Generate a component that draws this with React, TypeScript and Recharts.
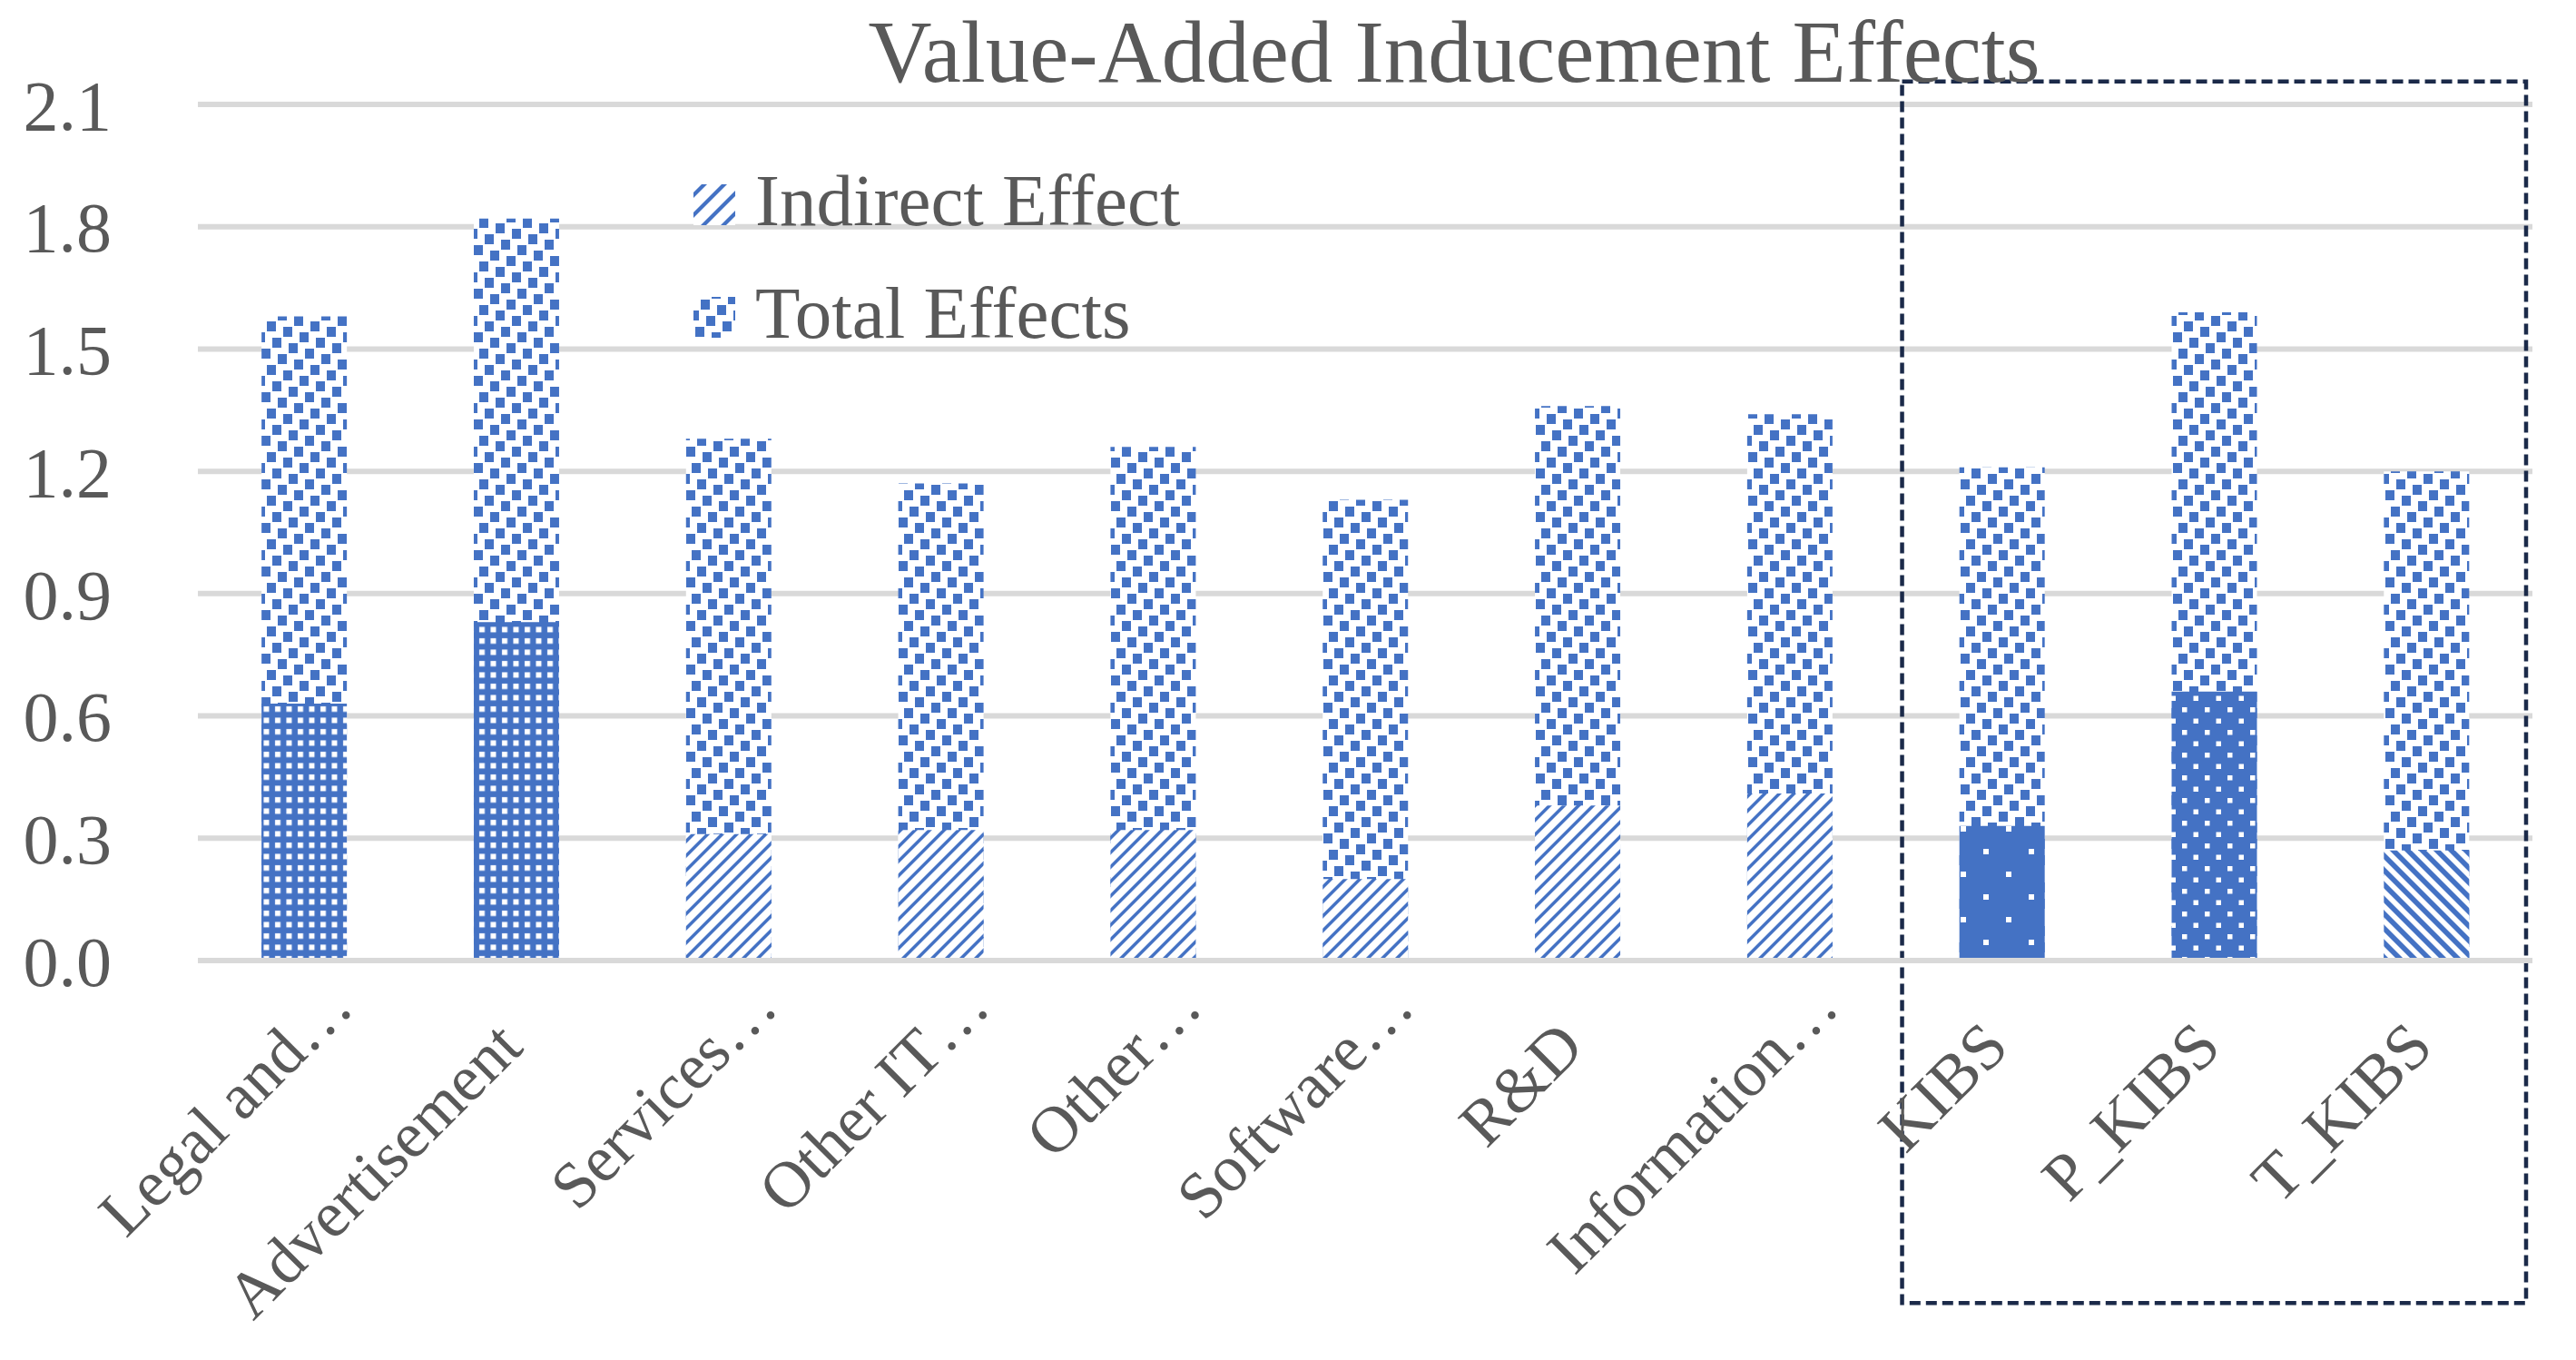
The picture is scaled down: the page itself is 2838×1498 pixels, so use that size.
import React from "react";
import {
  Bar,
  BarChart,
  CartesianGrid,
  Cell,
  Legend,
  ReferenceArea,
  XAxis,
  YAxis,
} from "recharts";

const categories = [
  "Legal and…",
  "Advertisement",
  "Services…",
  "Other IT…",
  "Other…",
  "Software…",
  "R&D",
  "Information…",
  "KIBS",
  "P_KIBS",
  "T_KIBS",
];
const indirectEffect = [0.63, 0.83, 0.31, 0.32, 0.32, 0.2, 0.38, 0.41, 0.33, 0.66, 0.27];
const totalEffects = [1.58, 1.82, 1.28, 1.17, 1.26, 1.13, 1.36, 1.34, 1.21, 1.59, 1.2];
const yTicks = [0, 0.3, 0.6, 0.9, 1.2, 1.5, 1.8, 2.1];
const seriesNames = ["Indirect Effect", "Total Effects"];

// fill pattern used for each indirect-effect bar
const indirectPatterns = [
  "pat-grid",
  "pat-grid",
  "pat-up",
  "pat-up",
  "pat-up",
  "pat-up",
  "pat-up",
  "pat-up",
  "pat-dots-sparse",
  "pat-dots-dense",
  "pat-down",
];

// dashed frame around the KIBS group (value range runs past the axis on purpose)
const highlightFrom = "KIBS";
const highlightTo = "T_KIBS";
const highlightValues = [-0.84, 2.156];

const BLUE = "#4472C4";
const TEXT = "#595959";
const GRID = "#D9D9D9";
const FRAME = "#1B2A49";
const FONT = "'Liberation Serif', 'Times New Roman', serif";

const data = categories.map((name, i) => ({
  name,
  indirect: indirectEffect[i],
  total: totalEffects[i],
}));

// large confetti: 2x2 blocks on an 8x8 lattice of 6px cells
const confetti = Array.from({ length: 8 }, (_, k) => [(k * 3) % 8, k % 8]);

function PatternDefs() {
  return (
    <svg width={0} height={0} style={{ position: "absolute" }}>
      <defs>
        <pattern id="pat-total" width={48} height={48} patternUnits="userSpaceOnUse">
          <rect width={48} height={48} fill="#fff" />
          {confetti.map(([cx, cy], i) =>
            [0, -48].map((ox) =>
              [0, -48].map((oy) => (
                <rect
                  key={`${i}-${ox}-${oy}`}
                  x={cx * 6 + ox}
                  y={cy * 6 + oy}
                  width={10}
                  height={11}
                  fill={BLUE}
                />
              ))
            )
          )}
        </pattern>
        <pattern id="pat-grid" width={12.5} height={12.5} patternUnits="userSpaceOnUse">
          <rect width={12.5} height={12.5} fill={BLUE} />
          <rect x={3} y={3} width={6} height={6} fill="#fff" />
        </pattern>
        <pattern id="pat-up" width={16} height={16} patternUnits="userSpaceOnUse">
          <rect width={16} height={16} fill="#fff" />
          <polygon points="0,0 5,0 0,5" fill={BLUE} />
          <polygon points="16,0 16,5 5,16 0,16" fill={BLUE} />
        </pattern>
        <pattern id="pat-down" width={16} height={16} patternUnits="userSpaceOnUse">
          <rect width={16} height={16} fill="#fff" />
          <polygon points="0,0 8,0 16,8 16,16" fill={BLUE} />
          <polygon points="0,8 8,16 0,16" fill={BLUE} />
        </pattern>
        <pattern id="pat-dots-sparse" width={50} height={50} patternUnits="userSpaceOnUse">
          <rect width={50} height={50} fill={BLUE} />
          <rect x={10} y={10} width={6} height={6} fill="#fff" />
          <rect x={35} y={35} width={6} height={6} fill="#fff" />
        </pattern>
        <pattern id="pat-dots-dense" width={25} height={25} patternUnits="userSpaceOnUse">
          <rect width={25} height={25} fill={BLUE} />
          <rect x={4} y={4} width={5.5} height={5.5} fill="#fff" />
          <rect x={16.5} y={16.5} width={5.5} height={5.5} fill="#fff" />
        </pattern>
        <pattern id="pat-legend-up" width={22} height={22} patternUnits="userSpaceOnUse">
          <rect width={22} height={22} fill="#fff" />
          <polygon points="0,0 6,0 0,6" fill={BLUE} />
          <polygon points="22,0 22,6 6,22 0,22" fill={BLUE} />
        </pattern>
      </defs>
    </svg>
  );
}

function CategoryTick(props: any) {
  const { x, y, payload } = props;
  const label: string = payload.value;
  // Excel puts truncated labels a little further up the diagonal
  const truncated = label.endsWith("…");
  const dx = truncated ? 57 : 10;
  const dy = truncated ? 54 : 98;
  return (
    <g transform={`translate(${x},${y})`}>
      <text
        x={dx}
        y={dy}
        transform={`rotate(-45 ${dx} ${dy})`}
        textAnchor="end"
        fontFamily={FONT}
        fontSize={72}
        fill={TEXT}
      >
        {label}
      </text>
    </g>
  );
}

const legendFills = ["url(#pat-legend-up)", "url(#pat-total)"];

function LegendBox() {
  return (
    <svg width={640} height={300}>
      {seriesNames.map((name, i) => (
        <g key={name}>
          <rect x={4} y={53 + i * 124} width={46} height={45} fill={legendFills[i]} />
          <text x={72} y={98 + i * 124} fontFamily={FONT} fontSize={81} fill={TEXT}>
            {name}
          </text>
        </g>
      ))}
    </svg>
  );
}

function FrameShape(props: any) {
  const { x, y, width, height } = props;
  // the frame sits a few pixels inside the outer category bands
  return (
    <rect
      x={x + 7}
      y={y}
      width={width - 14}
      height={height}
      fill="none"
      stroke={FRAME}
      strokeWidth={4.5}
      strokeDasharray="12 6"
    />
  );
}

export default function App() {
  return (
    <div style={{ position: "absolute", left: 0, top: 0, width: 2838, height: 1498, background: "#fff" }}>
      <PatternDefs />
      <BarChart
        width={2838}
        height={1498}
        data={data}
        margin={{ top: 115, right: 48, left: 0, bottom: 0 }}
        barCategoryGap="30%"
      >
        <CartesianGrid vertical={false} stroke={GRID} strokeWidth={6} />
        <XAxis
          dataKey="name"
          height={440}
          axisLine={{ stroke: GRID, strokeWidth: 6 }}
          tickLine={false}
          tickSize={0}
          tickMargin={0}
          interval={0}
          tick={<CategoryTick />}
        />
        <XAxis dataKey="name" xAxisId="front" hide />
        <YAxis
          domain={[0, 2.1]}
          ticks={yTicks}
          width={218}
          axisLine={false}
          tickLine={false}
          tickSize={0}
          tickMargin={95}
          tickFormatter={(v: number) => v.toFixed(1)}
          tick={{ fontSize: 78, fontFamily: FONT, fill: TEXT }}
        />
        <Legend
          layout="vertical"
          align="center"
          verticalAlign="middle"
          wrapperStyle={{ left: 760, top: 150, width: 640, height: 300 }}
          content={() => <LegendBox />}
        />
        <Bar
          dataKey="total"
          name={seriesNames[1]}
          fill="url(#pat-total)"
          isAnimationActive={false}
        />
        <Bar dataKey="indirect" name={seriesNames[0]} xAxisId="front" isAnimationActive={false}>
          {data.map((d, i) => (
            <Cell key={d.name} fill={`url(#${indirectPatterns[i]})`} />
          ))}
        </Bar>
        <ReferenceArea
          x1={highlightFrom}
          x2={highlightTo}
          y1={highlightValues[0]}
          y2={highlightValues[1]}
          ifOverflow="visible"
          shape={<FrameShape />}
        />
      </BarChart>
      <svg
        width={2838}
        height={200}
        style={{ position: "absolute", left: 0, top: 0, pointerEvents: "none" }}
      >
        <text x={1602} y={90} textAnchor="middle" fontFamily={FONT} fontSize={97} fill={TEXT}>
          Value-Added Inducement Effects
        </text>
      </svg>
    </div>
  );
}
